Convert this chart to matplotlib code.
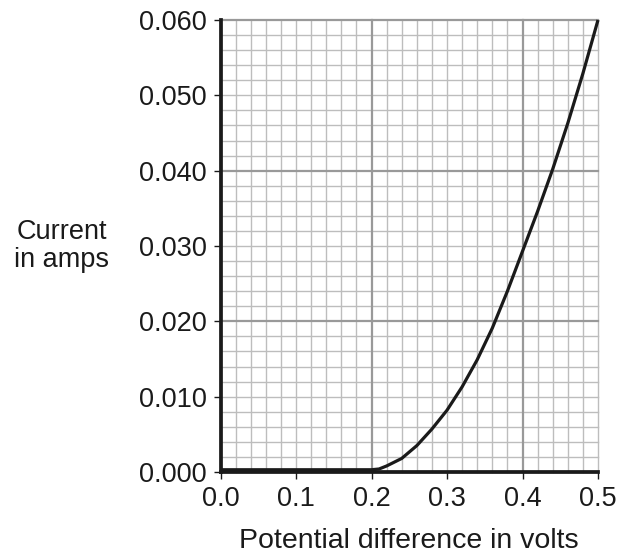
import numpy as np
import matplotlib
matplotlib.use("Agg")
import matplotlib.pyplot as plt

# Data
voltage = [0.0, 0.05, 0.10, 0.15, 0.20, 0.21, 0.22, 0.24, 0.26, 0.28, 0.30, 0.32,
           0.34, 0.36, 0.38, 0.40, 0.42, 0.44, 0.46, 0.48, 0.50]
current = [0.0003, 0.0003, 0.0003, 0.0003, 0.0003, 0.0004, 0.0008, 0.0018, 0.0035,
           0.0057, 0.0082, 0.0113, 0.0149, 0.0191, 0.0240, 0.0293, 0.0346, 0.0402,
           0.0463, 0.0529, 0.0600]
x_ticks = [0.0, 0.1, 0.2, 0.3, 0.4, 0.5]
x_tick_labels = ["0.0", "0.1", "0.2", "0.3", "0.4", "0.5"]
y_ticks = [0.000, 0.010, 0.020, 0.030, 0.040, 0.050, 0.060]
y_tick_labels = ["0.000", "0.010", "0.020", "0.030", "0.040", "0.050", "0.060"]

plt.rcParams['font.family'] = ['Liberation Sans', 'DejaVu Sans']

W, H = 621, 556
fig = plt.figure(figsize=(W / 100, H / 100), dpi=100)
L, R, T, B = 220.5, 598, 20, 472
ax = fig.add_axes([L / W, 1 - B / H, (R - L) / W, (B - T) / H])
ax.set_xlim(0, 0.5)
ax.set_ylim(0, 0.06)

# grid
minor_c = "#bdbdbd"
major_c = "#999999"
for xv in np.arange(0.02, 0.5001, 0.02):
    is_major = abs(xv / 0.2 - round(xv / 0.2)) < 1e-6
    ax.axvline(xv, color=major_c if is_major else minor_c,
               lw=1.6 if is_major else 1.0, zorder=1.5 if is_major else 1, clip_on=False)
for yv in np.arange(0.002, 0.06001, 0.002):
    is_major = abs(yv / 0.02 - round(yv / 0.02)) < 1e-6
    ax.axhline(yv, color=major_c if is_major else minor_c,
               lw=1.6 if is_major else 1.0, zorder=1.5 if is_major else 1, clip_on=False)

ax.plot(voltage, current, color="#1a1a1a", lw=2.3, solid_joinstyle='round',
        solid_capstyle='butt', zorder=4, clip_on=False)

for s in ["top", "right"]:
    ax.spines[s].set_visible(False)
for s in ["left", "bottom"]:
    ax.spines[s].set_linewidth(2.7)
    ax.spines[s].set_color("#1a1a1a")
    ax.spines[s].set_zorder(5)

ax.set_xticks(x_ticks)
ax.set_xticklabels(x_tick_labels)
ax.set_yticks(y_ticks)
ax.set_yticklabels(y_tick_labels)
ax.tick_params(axis='both', direction='out', length=5, width=1, color="#1a1a1a",
               labelsize=19.5, labelcolor="#1a1a1a")
ax.tick_params(axis='y', pad=5)
ax.tick_params(axis='x', pad=5)

fig.text(62 / W, 1 - 246 / H, "Current\nin amps", ha='center', va='center',
         fontsize=19.5, color="#1a1a1a", linespacing=1.1)
fig.text(409 / W, 1 - 548 / H, "Potential difference in volts", ha='center',
         va='baseline', fontsize=20.5, color="#1a1a1a")

fig.savefig("out.png", dpi=100)
